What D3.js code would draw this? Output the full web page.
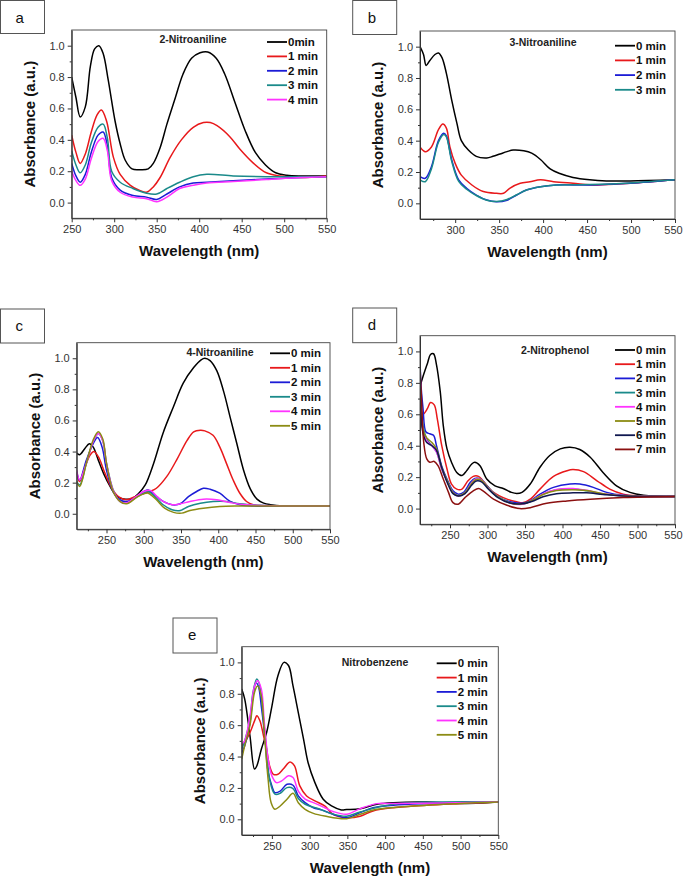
<!DOCTYPE html>
<html>
<head>
<meta charset="utf-8">
<script src="https://cdn.jsdelivr.net/npm/d3@7"></script>
<style>
  body { margin: 0; background: #fff; }
  svg { display: block; }
  text { font-family: "Liberation Sans", Arial, sans-serif; }
</style>
</head>
<body>
<div id="chart"></div>
<script>
const svgWidth = 683
const svgHeight = 877

// ---- a: 2-Nitroaniline ----
const legendA = ["0min", "1 min", "2 min", "3 min", "4 min"]
const specA0 = [[250,0.80],[255,0.67],[260,0.546],[266,0.61],[272,0.87],[277,0.98],[282,1.0],[287,0.95],[293,0.78],[301,0.52],[307,0.375],[313,0.27],[321,0.215],[330,0.21],[340,0.215],[346,0.25],[354,0.35],[362,0.50],[372,0.67],[381,0.82],[391,0.92],[401,0.955],[410,0.96],[420,0.92],[430,0.82],[442,0.64],[454,0.46],[466,0.32],[478,0.24],[490,0.19],[503,0.175],[519,0.17],[550,0.17]]
const specA1 = [[250,0.43],[255,0.32],[260,0.25],[266,0.31],[273,0.45],[280,0.56],[285,0.59],[291,0.52],[299,0.29],[307,0.18],[319,0.11],[330,0.077],[338,0.066],[346,0.10],[354,0.16],[366,0.29],[379,0.40],[393,0.48],[405,0.51],[413,0.51],[421,0.49],[436,0.42],[448,0.34],[464,0.25],[479,0.19],[495,0.17],[519,0.16],[550,0.17]]
const specA2 = [[250,0.25],[255,0.17],[260,0.13],[266,0.18],[273,0.32],[281,0.43],[287,0.45],[292,0.36],[297,0.16],[307,0.08],[322,0.045],[338,0.035],[350,0.02],[362,0.055],[377,0.10],[393,0.125],[409,0.13],[440,0.14],[479,0.15],[519,0.16],[550,0.165]]
const specA3 = [[250,0.33],[255,0.24],[260,0.19],[266,0.24],[273,0.38],[281,0.48],[287,0.50],[292,0.41],[297,0.20],[307,0.13],[322,0.09],[338,0.06],[350,0.055],[362,0.09],[377,0.13],[393,0.165],[409,0.18],[440,0.17],[479,0.165],[550,0.165]]
const specA4 = [[250,0.20],[255,0.14],[260,0.11],[266,0.15],[273,0.28],[281,0.39],[287,0.41],[292,0.33],[297,0.14],[307,0.066],[322,0.035],[338,0.025],[350,0.006],[362,0.035],[377,0.09],[393,0.11],[409,0.125],[440,0.135],[479,0.147],[519,0.16],[550,0.165]]

// ---- b: 3-Nitroaniline ----
const legendB = ["0 min", "1 min", "2 min", "3 min"]
const specB0 = [[260,1.0],[264,0.95],[267,0.88],[271,0.91],[277,0.95],[281,0.96],[285,0.93],[290,0.83],[296,0.66],[302,0.51],[307,0.40],[315,0.34],[324,0.30],[336,0.29],[343,0.30],[351,0.315],[359,0.33],[366,0.34],[378,0.335],[387,0.32],[397,0.28],[408,0.22],[419,0.19],[434,0.165],[453,0.15],[472,0.143],[499,0.143],[550,0.15]]
const specB1 = [[260,0.36],[266,0.33],[273,0.36],[281,0.47],[286,0.506],[290,0.48],[294,0.36],[300,0.255],[307,0.18],[319,0.117],[332,0.075],[347,0.064],[355,0.064],[362,0.096],[374,0.128],[385,0.138],[397,0.15],[412,0.138],[434,0.128],[461,0.117],[499,0.128],[550,0.15]]
const specB2 = [[260,0.17],[266,0.16],[273,0.234],[281,0.40],[287,0.447],[290,0.43],[296,0.28],[304,0.15],[313,0.096],[324,0.053],[336,0.021],[347,0.01],[359,0.02],[370,0.053],[381,0.085],[397,0.106],[415,0.117],[453,0.117],[499,0.128],[550,0.15]]
const specB3 = [[260,0.15],[266,0.138],[273,0.22],[281,0.39],[287,0.44],[290,0.425],[296,0.27],[304,0.14],[313,0.09],[324,0.05],[336,0.02],[347,0.012],[359,0.025],[370,0.055],[381,0.085],[397,0.106],[415,0.117],[453,0.12],[499,0.13],[550,0.15]]

// ---- c: 4-Nitroaniline ----
const legendC = ["0 min", "1 min", "2 min", "3 min", "4 min", "5 min"]
const specC0 = [[210,0.39],[214,0.38],[221,0.42],[227,0.45],[232,0.43],[239,0.345],[246,0.26],[255,0.175],[264,0.11],[275,0.094],[284,0.096],[293,0.13],[302,0.185],[313,0.32],[326,0.52],[340,0.69],[353,0.84],[367,0.94],[377,0.99],[382,1.0],[389,0.985],[398,0.92],[407,0.79],[416,0.62],[425,0.45],[434,0.28],[443,0.16],[452,0.094],[461,0.068],[470,0.058],[487,0.05],[550,0.05]]
const specC1 = [[210,0.26],[214,0.207],[221,0.30],[228,0.377],[233,0.40],[239,0.367],[248,0.26],[257,0.164],[266,0.11],[277,0.09],[288,0.11],[300,0.13],[308,0.143],[317,0.164],[331,0.24],[344,0.345],[358,0.47],[367,0.527],[376,0.537],[382,0.533],[393,0.505],[402,0.43],[411,0.324],[420,0.217],[429,0.132],[438,0.079],[447,0.058],[465,0.051],[550,0.05]]
const specC2 = [[210,0.27],[214,0.217],[223,0.345],[232,0.45],[238,0.49],[244,0.43],[250,0.28],[259,0.143],[268,0.09],[277,0.079],[291,0.11],[300,0.143],[306,0.153],[315,0.12],[326,0.079],[338,0.058],[349,0.064],[360,0.11],[371,0.143],[380,0.164],[389,0.158],[402,0.132],[416,0.079],[429,0.058],[447,0.05],[550,0.05]]
const specC3 = [[210,0.207],[214,0.185],[223,0.324],[232,0.463],[239,0.516],[245,0.47],[250,0.324],[259,0.153],[268,0.079],[277,0.068],[291,0.11],[300,0.132],[306,0.143],[315,0.11],[326,0.058],[338,0.026],[349,0.021],[360,0.047],[376,0.068],[393,0.079],[411,0.079],[429,0.064],[456,0.055],[550,0.05]]
const specC4 = [[210,0.28],[214,0.217],[223,0.324],[232,0.463],[239,0.516],[245,0.47],[250,0.324],[259,0.15],[268,0.08],[277,0.07],[291,0.115],[300,0.143],[309,0.15],[318,0.11],[326,0.079],[338,0.058],[349,0.064],[362,0.079],[380,0.094],[398,0.09],[416,0.072],[438,0.058],[550,0.05]]
const specC5 = [[210,0.207],[214,0.175],[223,0.324],[232,0.473],[239,0.527],[245,0.48],[250,0.324],[259,0.143],[268,0.079],[277,0.064],[291,0.107],[300,0.128],[306,0.132],[317,0.09],[328,0.036],[340,0.009],[351,0.004],[362,0.021],[380,0.036],[402,0.047],[429,0.05],[550,0.05]]

// ---- d: 2-Nitrophenol ----
const legendD = ["0 min", "1 min", "2 min", "3 min", "4 min", "5 min", "6 min", "7 min"]
const specD0 = [[210,0.776],[214,0.84],[220,0.925],[224,0.98],[228,0.985],[232,0.915],[237,0.744],[241,0.53],[246,0.38],[252,0.295],[259,0.23],[266,0.21],[272,0.24],[279,0.284],[283,0.295],[290,0.273],[299,0.188],[310,0.145],[321,0.128],[332,0.103],[339,0.096],[346,0.103],[357,0.156],[370,0.263],[383,0.338],[397,0.38],[410,0.39],[423,0.376],[437,0.327],[454,0.23],[472,0.145],[490,0.103],[508,0.085],[550,0.077]]
const specD1 = [[210,0.66],[214,0.60],[220,0.637],[224,0.675],[229,0.66],[233,0.573],[239,0.40],[246,0.252],[252,0.156],[259,0.124],[266,0.124],[274,0.177],[281,0.205],[288,0.205],[294,0.177],[308,0.103],[326,0.06],[339,0.043],[348,0.038],[357,0.06],[370,0.124],[388,0.205],[406,0.241],[414,0.248],[428,0.235],[446,0.177],[463,0.124],[481,0.092],[503,0.081],[550,0.077]]
const specD2 = [[210,1.0],[211,0.81],[214,0.64],[218,0.487],[223,0.476],[228,0.466],[232,0.40],[239,0.27],[246,0.188],[254,0.113],[261,0.092],[268,0.103],[277,0.167],[283,0.192],[290,0.188],[299,0.145],[312,0.081],[330,0.043],[346,0.034],[357,0.049],[370,0.092],[388,0.135],[410,0.156],[423,0.156],[441,0.135],[459,0.103],[481,0.085],[550,0.077]]
const specD3 = [[210,0.81],[214,0.53],[219,0.444],[226,0.40],[232,0.36],[239,0.252],[246,0.177],[254,0.103],[261,0.081],[270,0.103],[279,0.167],[285,0.192],[292,0.184],[301,0.135],[314,0.077],[330,0.038],[346,0.028],[359,0.049],[374,0.092],[392,0.12],[414,0.124],[432,0.113],[454,0.092],[481,0.081],[550,0.077]]
const specD4 = [[210,0.75],[214,0.50],[219,0.43],[226,0.40],[232,0.36],[239,0.25],[246,0.175],[254,0.10],[261,0.08],[270,0.10],[279,0.165],[285,0.19],[292,0.182],[301,0.132],[314,0.075],[330,0.036],[346,0.027],[359,0.05],[374,0.094],[392,0.122],[414,0.128],[432,0.116],[454,0.094],[481,0.082],[550,0.077]]
const specD5 = [[210,0.70],[214,0.50],[219,0.45],[226,0.42],[232,0.38],[239,0.26],[246,0.18],[254,0.10],[261,0.082],[270,0.10],[279,0.16],[285,0.185],[292,0.18],[301,0.13],[314,0.075],[330,0.036],[346,0.03],[359,0.05],[374,0.09],[392,0.115],[414,0.12],[432,0.115],[454,0.095],[481,0.082],[550,0.077]]
const specD6 = [[210,0.75],[214,0.48],[219,0.42],[226,0.40],[232,0.37],[239,0.26],[246,0.17],[254,0.095],[261,0.08],[270,0.095],[279,0.15],[285,0.175],[292,0.17],[301,0.125],[314,0.07],[330,0.035],[346,0.03],[359,0.045],[374,0.075],[392,0.095],[414,0.10],[432,0.10],[454,0.09],[481,0.08],[550,0.077]]
const specD7 = [[210,0.91],[212,0.70],[215,0.42],[219,0.316],[223,0.295],[229,0.30],[234,0.273],[241,0.188],[248,0.103],[254,0.038],[261,0.028],[270,0.07],[281,0.113],[288,0.128],[294,0.113],[308,0.06],[326,0.021],[343,0.0],[357,0.006],[379,0.034],[406,0.049],[437,0.06],[481,0.07],[550,0.077]]

// ---- e: Nitrobenzene ----
const legendE = ["0 min", "1 min", "2 min", "3 min", "4 min", "5 min"]
const specE0 = [[210,0.83],[214,0.766],[221,0.53],[227,0.32],[230,0.34],[236,0.447],[243,0.553],[250,0.72],[258,0.915],[266,1.0],[272,0.98],[278,0.85],[285,0.68],[292,0.51],[298,0.36],[307,0.234],[318,0.128],[329,0.085],[342,0.06],[349,0.062],[367,0.068],[389,0.096],[411,0.106],[455,0.11],[499,0.10],[550,0.11]]
const specE1 = [[210,0.47],[214,0.49],[221,0.553],[228,0.64],[230,0.66],[234,0.63],[239,0.53],[243,0.447],[247,0.34],[252,0.287],[258,0.287],[265,0.32],[274,0.366],[280,0.34],[287,0.213],[296,0.149],[307,0.117],[320,0.085],[331,0.032],[349,0.01],[367,0.02],[384,0.053],[411,0.074],[455,0.09],[499,0.10],[550,0.11]]
const specE2 = [[210,0.425],[214,0.468],[221,0.617],[225,0.787],[229,0.87],[232,0.85],[236,0.72],[241,0.51],[245,0.30],[250,0.213],[254,0.17],[261,0.18],[270,0.223],[278,0.217],[285,0.149],[294,0.106],[305,0.074],[316,0.06],[331,0.032],[349,0.01],[367,0.043],[384,0.074],[411,0.09],[455,0.10],[550,0.11]]
const specE3 = [[210,0.447],[214,0.50],[221,0.64],[225,0.81],[230,0.894],[234,0.85],[238,0.68],[243,0.447],[247,0.255],[254,0.16],[261,0.166],[270,0.202],[278,0.196],[285,0.132],[294,0.096],[310,0.07],[330,0.035],[349,0.02],[367,0.047],[411,0.096],[550,0.11]]
const specE4 = [[210,0.48],[214,0.50],[221,0.66],[227,0.85],[231,0.883],[236,0.83],[240,0.617],[245,0.383],[250,0.277],[256,0.234],[263,0.245],[272,0.277],[278,0.266],[285,0.18],[294,0.128],[305,0.106],[320,0.074],[331,0.05],[349,0.032],[367,0.068],[389,0.10],[411,0.10],[550,0.11]]
const specE5 = [[210,0.383],[214,0.47],[221,0.60],[227,0.81],[231,0.85],[236,0.787],[240,0.553],[245,0.255],[249,0.106],[254,0.064],[261,0.085],[270,0.128],[278,0.166],[285,0.106],[294,0.064],[305,0.038],[320,0.021],[349,0.004],[367,0.032],[389,0.064],[455,0.09],[550,0.11]]

const yTicks = [0, 0.2, 0.4, 0.6, 0.8, 1.0]
const yMinor = [0.1, 0.3, 0.5, 0.7, 0.9]

const colors = ["#000000", "#e8191b", "#1c1cd6", "#1a8a8a", "#ff33ff", "#8c8c14", "#101850", "#8b1010"]

const svg = d3.select("#chart").append("svg")
  .attr("width", svgWidth)
  .attr("height", svgHeight)

const panels = [
  { id: "a", title: "2-Nitroaniline", legend: legendA, series: [specA0, specA1, specA2, specA3, specA4],
    left: 71.7, right: 326.7, top: 30, bottom: 218.3, xDomain: [250, 550],
    xTicks: [250, 300, 350, 400, 450, 500, 550], xMinor: [275, 325, 375, 425, 475, 525],
    titleX: 193, titleY: 39, legX: 267, legY: 42, legDy: 14.4,
    box: [0.5, 0.5, 44, 33] },
  { id: "b", title: "3-Nitroaniline", legend: legendB, series: [specB0, specB1, specB2, specB3],
    left: 420, right: 675, top: 31, bottom: 219, xDomain: [260, 550],
    xTicks: [300, 350, 400, 450, 500, 550], xMinor: [275, 325, 375, 425, 475, 525],
    titleX: 543, titleY: 42.3, legX: 615, legY: 45.7, legDy: 14.7,
    box: [352.7, 0.5, 44, 34] },
  { id: "c", title: "4-Nitroaniline", legend: legendC, series: [specC0, specC1, specC2, specC3, specC4, specC5],
    left: 76.7, right: 330, top: 342.7, bottom: 529.3, xDomain: [210, 550],
    xTicks: [250, 300, 350, 400, 450, 500, 550], xMinor: [225, 275, 325, 375, 425, 475, 525],
    titleX: 220, titleY: 352.3, legX: 270, legY: 353.3, legDy: 14.5,
    box: [0.5, 309, 44, 34] },
  { id: "d", title: "2-Nitrophenol", legend: legendD, series: [specD0, specD1, specD2, specD3, specD4, specD5, specD6, specD7],
    left: 420, right: 675, top: 335.7, bottom: 524.3, xDomain: [210, 550],
    xTicks: [250, 300, 350, 400, 450, 500, 550], xMinor: [225, 275, 325, 375, 425, 475, 525],
    titleX: 555, titleY: 350, legX: 615, legY: 350, legDy: 14.2,
    box: [352.7, 308, 44, 34.7] },
  { id: "e", title: "Nitrobenzene", legend: legendE, series: [specE0, specE1, specE2, specE3, specE4, specE5],
    left: 241.7, right: 498.3, top: 646.7, bottom: 835, xDomain: [210, 550],
    xTicks: [250, 300, 350, 400, 450, 500, 550], xMinor: [225, 275, 325, 375, 425, 475, 525],
    titleX: 375, titleY: 661.7, legX: 436.7, legY: 663.3, legDy: 14.3,
    box: [173, 618, 44, 35] }
]

function drawPanel(p) {
  const x = d3.scaleLinear().domain(p.xDomain).range([p.left, p.right])
  const y = d3.scaleLinear().domain([-0.1, 1.1]).range([p.bottom, p.top])

  // panel letter box
  svg.append("rect")
    .attr("x", p.box[0]).attr("y", p.box[1])
    .attr("width", p.box[2]).attr("height", p.box[3])
    .attr("fill", "#fff").attr("stroke", "#555").attr("stroke-width", 1)
  svg.append("text")
    .attr("x", p.box[0] + 15).attr("y", p.box[1] + 22)
    .attr("font-size", 15).attr("fill", "#111")
    .text(p.id)

  svg.append("clipPath").attr("id", "clip-" + p.id)
    .append("rect")
    .attr("x", p.left).attr("y", p.top)
    .attr("width", p.right - p.left).attr("height", p.bottom - p.top)

  const line = d3.line()
    .x(d => x(d[0]))
    .y(d => y(d[1]))
    .curve(d3.curveCatmullRom.alpha(0.5))

  const curves = svg.append("g").attr("clip-path", `url(#clip-${p.id})`)
  p.series.forEach((s, i) => {
    curves.append("path")
      .datum(s)
      .attr("d", line)
      .attr("fill", "none")
      .attr("stroke", colors[i])
      .attr("stroke-width", 1.5)
  })

  // frame
  svg.append("rect")
    .attr("x", p.left).attr("y", p.top)
    .attr("width", p.right - p.left).attr("height", p.bottom - p.top)
    .attr("fill", "none").attr("stroke", "#444").attr("stroke-width", 0.9)

  const xAxis = d3.axisBottom(x).tickValues(p.xTicks).tickSize(4).tickSizeOuter(0).tickPadding(3)
  const xMin = d3.axisBottom(x).tickValues(p.xMinor).tickSize(2).tickFormat("")
  const yAxis = d3.axisLeft(y).tickValues(yTicks).tickSize(4).tickSizeOuter(0).tickPadding(3).tickFormat(d3.format(".1f"))
  const yMin = d3.axisLeft(y).tickValues(yMinor).tickSize(2).tickFormat("")

  const gx = svg.append("g").attr("transform", `translate(0, ${p.bottom})`).call(xAxis)
  svg.append("g").attr("transform", `translate(0, ${p.bottom})`).call(xMin).select(".domain").remove()
  const gy = svg.append("g").attr("transform", `translate(${p.left}, 0)`).call(yAxis)
  svg.append("g").attr("transform", `translate(${p.left}, 0)`).call(yMin).select(".domain").remove()

  svg.selectAll(".tick line").attr("stroke", "#333")
  svg.selectAll(".domain").attr("stroke", "#333")
  gx.selectAll("text").attr("font-size", 11).attr("fill", "#333").attr("font-family", "Liberation Sans, Arial")
  gy.selectAll("text").attr("font-size", 11).attr("fill", "#333").attr("font-family", "Liberation Sans, Arial")
  // keep the last label inside the page when the frame reaches the edge
  if (p.right > 660) {
    gx.selectAll(".tick text").filter(d => d === 550).attr("dx", -2)
  }

  // axis titles
  svg.append("text")
    .attr("x", (p.left + p.right) / 2).attr("y", p.bottom + 38)
    .attr("text-anchor", "middle").attr("font-size", 15).attr("font-weight", "bold")
    .attr("fill", "#111")
    .text("Wavelength (nm)")
  svg.append("text")
    .attr("transform", `translate(${p.left - 37}, ${(p.top + p.bottom) / 2}) rotate(-90)`)
    .attr("text-anchor", "middle").attr("font-size", 15).attr("font-weight", "bold")
    .attr("fill", "#111")
    .text("Absorbance (a.u.)")

  // compound title
  svg.append("text")
    .attr("x", p.titleX).attr("y", p.titleY + 4)
    .attr("text-anchor", "middle").attr("font-size", 10.5).attr("font-weight", "bold")
    .attr("fill", "#222")
    .text(p.title)

  // legend
  p.legend.forEach((lab, i) => {
    const ly = p.legY + i * p.legDy
    svg.append("line")
      .attr("x1", p.legX).attr("x2", p.legX + 20)
      .attr("y1", ly).attr("y2", ly)
      .attr("stroke", colors[i]).attr("stroke-width", 1.8)
    svg.append("text")
      .attr("x", p.legX + 21).attr("y", ly + 4)
      .attr("font-size", 11.5).attr("font-weight", "bold").attr("fill", "#111")
      .text(lab)
  })
}

panels.forEach(drawPanel)
</script>
</body>
</html>
